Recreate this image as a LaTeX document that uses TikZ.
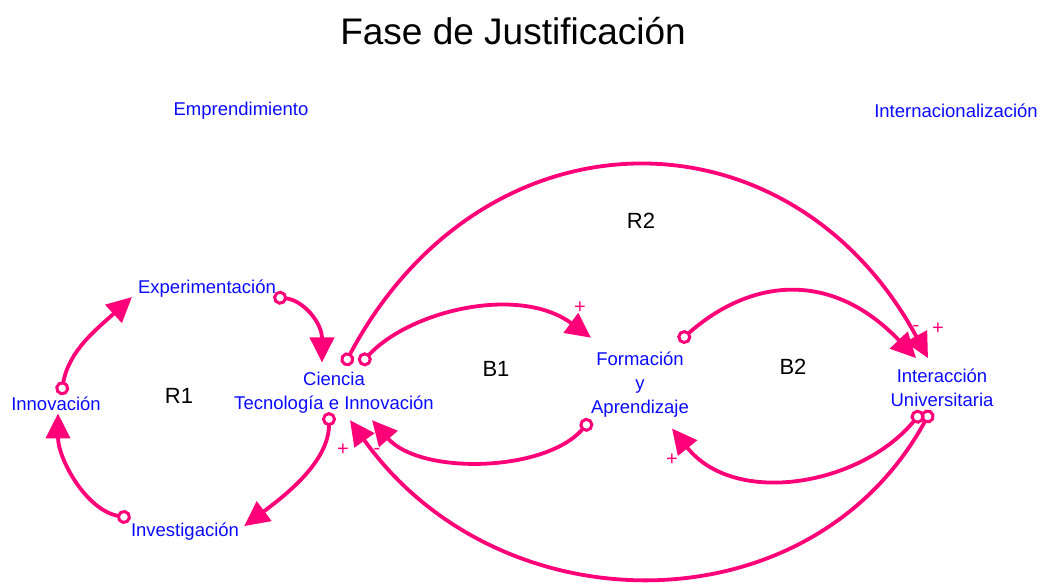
\documentclass[tikz,border=0pt]{standalone}
\usepackage{fontspec}
\setmainfont{Liberation Sans}
\usetikzlibrary{arrows.meta}
\definecolor{linkpink}{RGB}{255,0,120}
\definecolor{varblue}{RGB}{10,10,255}

\begin{document}
\begin{tikzpicture}[x=1pt,y=-1pt,
	var/.style={text=varblue,font=\fontsize{18.5}{24}\selectfont,inner sep=0pt,align=center},
	loopname/.style={font=\fontsize{22}{26}\selectfont,anchor=base},
	link/.style={linkpink,line width=3.8pt,{Circle[open,length=14pt,line width'=3pt]}-{Triangle[length=25pt,width=24pt]}},
	sign/.style={text=linkpink,font=\fontsize{20}{20}\selectfont,inner sep=0pt}]

\useasboundingbox (0,0) rectangle (1041,584);

\node[anchor=base] (title) at (513,44) {\fontsize{37}{40}\selectfont Fase de Justificación};

% The variables
\node[var,anchor=base] (empr) at (241,115) {Emprendimiento};
\node[var,anchor=base] (inter) at (956,117) {Internacionalización};
\node[var,anchor=base] (exper) at (207,293) {Experimentación};
\node[var,anchor=base] (inno) at (56,410) {Innovación};
\node[var,anchor=base] (inv) at (185,536) {Investigación};
\node[var] (cti) at (334,392.3) {Ciencia\\Tecnología e Innovación};
\node[var] (form) at (640,384.6) {Formación\\y\\Aprendizaje};
\node[var] (univ) at (942,388.2) {Interacción\\Universitaria};

% The loops
\node[loopname] (r1) at (179,403) {R1};
\node[loopname] (b1) at (496,376) {B1};
\node[loopname] (b2) at (793,374) {B2};
\node[loopname] (r2) at (641,228) {R2};

% Loop R1
\draw[link] ([xshift=5pt,yshift=1pt]inno.north) .. controls +(8,-45) and +(-35,32) .. ([xshift=-6pt]exper.south west);
\draw[link] ([xshift=-3pt]exper.south east) .. controls +(30,3) and +(0,-40) .. ([xshift=-12pt,yshift=9pt]cti.north);
\draw[link] ([xshift=-5pt,yshift=1pt]cti.south) .. controls +(0,50) and +(40,-30) .. ([xshift=5pt,yshift=5pt]inv.east);
\draw[link] ([yshift=4pt]inv.north west) .. controls +(-45,-8) and +(0,45) .. ([xshift=2pt,yshift=-3pt]inno.south);

% Loop B1
\draw[link] ([xshift=26pt,yshift=7pt]cti.north) .. controls +(50,-54) and +(-72,-53) .. ([yshift=14pt]form.north west);
\draw[link] ([yshift=-2pt]form.south west) .. controls +(-46,53) and +(48,55) .. ([xshift=38pt,yshift=-7pt]cti.south);

% Loop B2
\draw[link] ([xshift=-10pt,yshift=10pt]form.north east) .. controls +(70,-62) and +(-86,-90) .. ([xshift=-26pt,yshift=11pt]univ.north);
\draw[link] ([xshift=-20pt,yshift=-4pt]univ.south) .. controls +(-61,74) and +(63,79) .. ([xshift=-17pt,yshift=-11pt]form.south east);

% Loop R2
\draw[link] ([xshift=10pt,yshift=6pt]cti.north) .. controls +(140,-263) and +(-138,-255) .. ([xshift=-14pt,yshift=11pt]univ.north);
\draw[link] ([xshift=-11pt,yshift=-3pt]univ.south) .. controls +(-120,220) and +(150,210) .. ([xshift=16pt,yshift=-7pt]cti.south);

% The polarities
\node[sign] (p1) at (580,308) {+};
\node[sign] (p2) at (343,450) {+};
\node[sign] (m1) at (377,451) {-};
\node[sign] (p3) at (672,460) {+};
\node[sign] (m2) at (916,328) {-};
\node[sign] (p4) at (938,329) {+};

\end{tikzpicture}
\end{document}
